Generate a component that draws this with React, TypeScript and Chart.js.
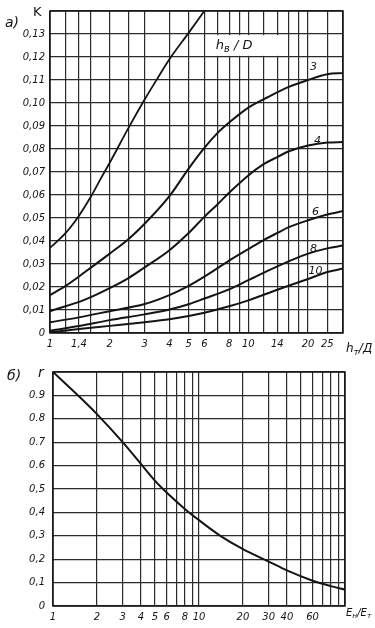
import React, { useEffect, useRef } from 'react';
import { Chart, registerables } from 'chart.js';

Chart.register(...registerables);

// ---------- Panel a) data ----------
const topGridX = [1, 1.2, 1.4, 1.6, 2, 2.5, 3, 4, 5, 6, 7, 8, 9, 10, 12, 14, 16, 18, 20, 25, 30];
const topLabelX = [1, 1.4, 2, 3, 4, 5, 6, 8, 10, 14, 20, 25];
const topLabelXText = ['1', '1,4', '2', '3', '4', '5', '6', '8', '10', '14', '20', '25'];
const topYLabels = ['0', '0,01', '0,02', '0,03', '0,04', '0,05', '0,06', '0,07', '0,08', '0,09', '0,10', '0,11', '0,12', '0,13', ''];

const curveTop: number[][] = [[1, 0.037], [1.2, 0.0435], [1.4, 0.051], [1.6, 0.059], [1.8, 0.067], [2, 0.074], [2.5, 0.0895], [3, 0.1015], [3.5, 0.111], [4, 0.119], [5, 0.1305], [6, 0.14]];
const curve3: number[][] = [[1, 0.0165], [1.2, 0.0205], [1.5, 0.0265], [2, 0.0345], [2.5, 0.041], [3, 0.0475], [4, 0.0595], [5, 0.0715], [6, 0.0805], [7, 0.087], [8, 0.0915], [10, 0.098], [12.5, 0.1025], [16, 0.107], [20, 0.11], [25, 0.1125], [30, 0.113]];
const curve4: number[][] = [[1, 0.0095], [1.5, 0.0145], [2, 0.0195], [2.5, 0.024], [3, 0.0285], [4, 0.036], [5, 0.0435], [6, 0.0505], [7, 0.056], [8, 0.061], [10, 0.0685], [12, 0.0735], [14, 0.0765], [16, 0.079], [20, 0.0815], [25, 0.0828], [30, 0.083]];
const curve6: number[][] = [[1, 0.0047], [1.4, 0.0068], [2, 0.0095], [3, 0.0126], [4, 0.0165], [5, 0.0205], [6, 0.0245], [8, 0.0315], [10, 0.0365], [12, 0.0405], [14, 0.0435], [16, 0.046], [20, 0.049], [25, 0.0515], [30, 0.053]];
const curve8: number[][] = [[1, 0.001], [1.4, 0.003], [2, 0.0056], [3, 0.0081], [4, 0.0102], [5, 0.0125], [6, 0.015], [8, 0.019], [10, 0.023], [14, 0.029], [20, 0.0345], [25, 0.0368], [30, 0.038]];
const curve10: number[][] = [[1, 0.0003], [1.4, 0.0017], [2, 0.0031], [3, 0.0047], [4, 0.006], [5, 0.0074], [6, 0.0088], [8, 0.0116], [10, 0.0142], [14, 0.0188], [20, 0.0235], [25, 0.0265], [30, 0.028]];

const curveLabels = ['3', '4', '6', '8', '10'];
const curveLabelPos: number[][] = [[21.3, 0.1155], [22.3, 0.0832], [21.8, 0.0526], [21.3, 0.0366], [21.8, 0.027]];

// ---------- Panel б) data ----------
const botGridX = [1, 2, 3, 4, 5, 6, 7, 8, 9, 10, 20, 30, 40, 50, 60, 70, 80, 90, 100];
const botLabelX = [1, 2, 3, 4, 5, 6, 8, 10, 20, 30, 40, 60];
const botYLabels = ['0', '0,1', '0,2', '0,3', '0,4', '0,5', '0.6', '0.7', '0.8', '0.9', ''];
const curveR: number[][] = [[1, 1.0], [1.5, 0.897], [2, 0.82], [3, 0.7], [4, 0.607], [5, 0.535], [6, 0.485], [8, 0.415], [10, 0.367], [14, 0.3], [20, 0.243], [30, 0.19], [40, 0.152], [60, 0.108], [80, 0.085], [100, 0.07]];

const INK = '#141414';
const GRID = '#2b2b2b';
const TICK_FONT = { family: "'DejaVu Sans', sans-serif", size: 10, style: 'italic' as const };

type Part = { t: string; sub?: boolean };
function drawParts(ctx: CanvasRenderingContext2D, x: number, y: number, parts: Part[], size: number) {
  let cx = x;
  ctx.textAlign = 'left';
  ctx.textBaseline = 'middle';
  for (const p of parts) {
    const s = p.sub ? size * 0.75 : size;
    ctx.font = `italic ${s}px 'DejaVu Sans', sans-serif`;
    ctx.fillText(p.t, cx, p.sub ? y + size * 0.3 : y);
    cx += ctx.measureText(p.t).width;
  }
}

function toXY(arr: number[][]) {
  return arr.map(([x, y]) => ({ x, y }));
}

function lineDs(arr: number[][], width = 2) {
  return {
    data: toXY(arr),
    borderColor: INK,
    borderWidth: width,
    pointRadius: 0,
    cubicInterpolationMode: 'monotone' as const,
    fill: false,
  };
}

export default function App() {
  const topRef = useRef<HTMLCanvasElement>(null);
  const botRef = useRef<HTMLCanvasElement>(null);

  useEffect(() => {
    const topPlugin = {
      id: 'topDeco',
      afterDraw(chart: any) {
        const { ctx, chartArea: a, scales } = chart;
        const xs = scales.x, ys = scales.y;
        ctx.save();
        ctx.strokeStyle = INK;
        ctx.lineWidth = 1.5;
        ctx.strokeRect(a.left, a.top, a.right - a.left, a.bottom - a.top);
        // legend box
        const bx1 = xs.getPixelForValue(6.1), bx2 = xs.getPixelForValue(14.8);
        const by1 = ys.getPixelForValue(0.1295), by2 = ys.getPixelForValue(0.1205);
        ctx.fillStyle = '#fff';
        ctx.fillRect(bx1, by1, bx2 - bx1, by2 - by1);
        ctx.fillStyle = INK;
        drawParts(ctx, bx1 + 10, (by1 + by2) / 2, [{ t: 'h' }, { t: 'в', sub: true }, { t: ' / D' }], 13);
        // curve labels
        ctx.font = `italic 11px 'DejaVu Sans', sans-serif`;
        ctx.textAlign = 'center';
        ctx.textBaseline = 'middle';
        curveLabels.forEach((l, i) => {
          ctx.fillText(l, xs.getPixelForValue(curveLabelPos[i][0]), ys.getPixelForValue(curveLabelPos[i][1]));
        });
        // panel titles
        ctx.font = `italic 14px 'DejaVu Sans', sans-serif`;
        ctx.textAlign = 'left';
        ctx.fillText('а)', 5, 23);
        ctx.font = `13px 'DejaVu Sans', sans-serif`;
        ctx.fillText('K', 33, 13);
        drawParts(ctx, a.right + 3, a.bottom + 16, [{ t: 'h' }, { t: 'т', sub: true }, { t: '/Д' }], 12);
        ctx.restore();
      },
    };

    const botPlugin = {
      id: 'botDeco',
      afterDraw(chart: any) {
        const { ctx, chartArea: a } = chart;
        ctx.save();
        ctx.strokeStyle = INK;
        ctx.lineWidth = 1.5;
        ctx.strokeRect(a.left, a.top, a.right - a.left, a.bottom - a.top);
        ctx.fillStyle = INK;
        ctx.font = `italic 14px 'DejaVu Sans', sans-serif`;
        ctx.textAlign = 'left';
        ctx.textBaseline = 'middle';
        ctx.fillText('б)', 7, 18);
        ctx.fillText('r', 38, 15);
        drawParts(ctx, a.right + 1, a.bottom + 7, [{ t: 'E' }, { t: 'н', sub: true }, { t: '/E' }, { t: 'т', sub: true }], 10);
        ctx.restore();
      },
    };

    const top = new Chart(topRef.current!, {
      type: 'line',
      data: {
        datasets: [lineDs(curveTop, 1.8), lineDs(curve3), lineDs(curve4), lineDs(curve6), lineDs(curve8), lineDs(curve10)],
      },
      options: {
        responsive: false,
        animation: false,
        layout: { padding: { top: 10, right: 32, left: 0, bottom: 0 } },
        plugins: { legend: { display: false }, tooltip: { enabled: false } },
        scales: {
          x: {
            type: 'logarithmic',
            min: 1,
            max: 30,
            afterBuildTicks: (s: any) => { s.ticks = topGridX.map((v) => ({ value: v })); },
            afterFit: (s: any) => { s.height = 25; },
            grid: { color: GRID, lineWidth: 1.2, drawTicks: false },
            border: { display: false },
            ticks: {
              autoSkip: false,
              maxRotation: 0,
              padding: 5,
              color: INK,
              font: TICK_FONT,
              callback: (v: any) => {
                const i = topLabelX.indexOf(Number(v));
                return i >= 0 ? topLabelXText[i] : '';
              },
            },
          },
          y: {
            type: 'linear',
            min: 0,
            max: 0.14,
            afterFit: (s: any) => { s.width = 50; },
            grid: { color: GRID, lineWidth: 1.2, drawTicks: false },
            border: { display: false },
            ticks: {
              stepSize: 0.01,
              padding: 5,
              color: INK,
              font: TICK_FONT,
              callback: (v: any) => topYLabels[Math.round(Number(v) * 100)] ?? '',
            },
          },
        },
      } as any,
      plugins: [topPlugin],
    });

    const bot = new Chart(botRef.current!, {
      type: 'line',
      data: { datasets: [lineDs(curveR, 2)] },
      options: {
        responsive: false,
        animation: false,
        layout: { padding: { top: 10, right: 30, left: 0, bottom: 0 } },
        plugins: { legend: { display: false }, tooltip: { enabled: false } },
        scales: {
          x: {
            type: 'logarithmic',
            min: 1,
            max: 100,
            afterBuildTicks: (s: any) => { s.ticks = botGridX.map((v) => ({ value: v })); },
            afterFit: (s: any) => { s.height = 22; },
            grid: { color: GRID, lineWidth: 1.2, drawTicks: false },
            border: { display: false },
            ticks: {
              autoSkip: false,
              maxRotation: 0,
              padding: 5,
              color: INK,
              font: TICK_FONT,
              callback: (v: any) => (botLabelX.indexOf(Number(v)) >= 0 ? String(v) : ''),
            },
          },
          y: {
            type: 'linear',
            min: 0,
            max: 1,
            afterFit: (s: any) => { s.width = 53; },
            grid: { color: GRID, lineWidth: 1.2, drawTicks: false },
            border: { display: false },
            ticks: {
              stepSize: 0.1,
              padding: 8,
              color: INK,
              font: TICK_FONT,
              callback: (v: any) => botYLabels[Math.round(Number(v) * 10)] ?? '',
            },
          },
        },
      } as any,
      plugins: [botPlugin],
    });

    return () => {
      top.destroy();
      bot.destroy();
    };
  }, []);

  return (
    <div style={{ position: 'fixed', left: 0, top: 0, width: 375, height: 628, background: '#fff' }}>
      <canvas ref={topRef} width={375} height={358} style={{ position: 'absolute', left: 0, top: 0, display: 'block' }} />
      <canvas ref={botRef} width={375} height={270} style={{ position: 'absolute', left: 0, top: 358, display: 'block' }} />
    </div>
  );
}
